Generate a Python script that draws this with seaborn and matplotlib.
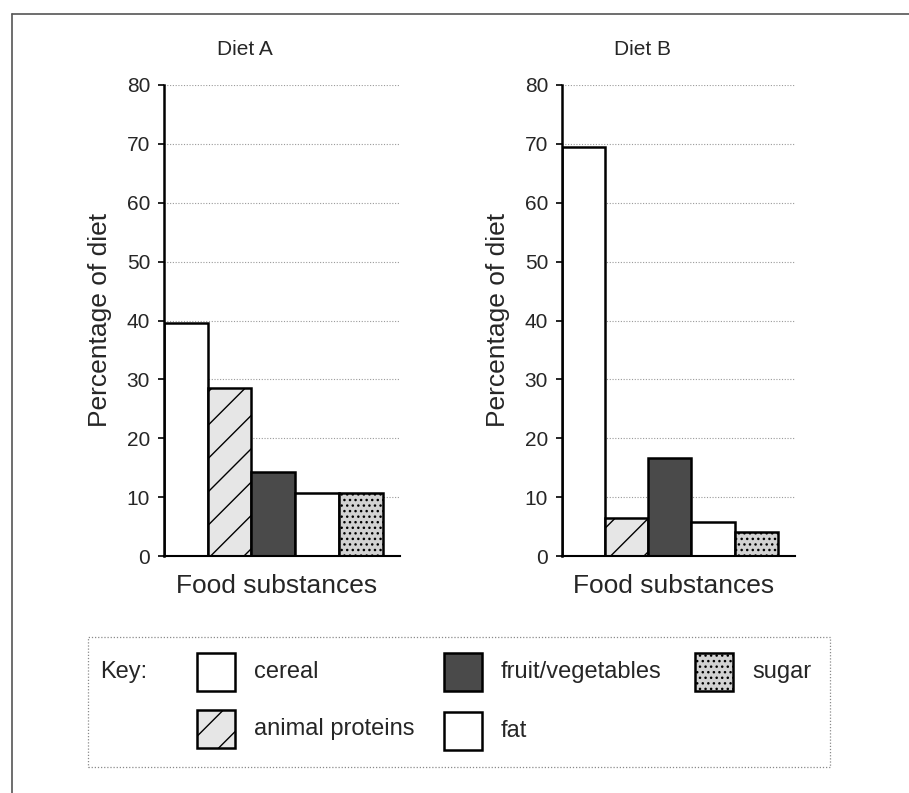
import matplotlib
matplotlib.use("Agg")
import matplotlib.pyplot as plt
from matplotlib.patches import Rectangle
import seaborn as sns

sns.set_theme(style="white")
plt.rcParams['font.family'] = ['Liberation Sans', 'DejaVu Sans']

foods = ["cereal", "animal proteins", "fruit/vegetables", "fat", "sugar"]
diet_a = [39.5, 28.5, 14.3, 10.7, 10.7]
diet_b = [69.4, 6.4, 16.6, 5.7, 4.0]
y_ticks = [0, 10, 20, 30, 40, 50, 60, 70, 80]

face = {"cereal": "white", "animal proteins": "#e6e6e6", "fruit/vegetables": "#4a4a4a",
        "fat": "white", "sugar": "#d2d2d2"}
hatch = {"cereal": None, "animal proteins": "/", "fruit/vegetables": None,
         "fat": None, "sugar": "..."}

W, H = 909, 793
fig = plt.figure(figsize=(W / 100, H / 100), dpi=100)


def fx(px):
    return px / W


def fy(py):
    return 1 - py / H


def panel(left, right, values, title, title_x):
    ax = fig.add_axes([fx(left), fy(556), fx(right - left), fy(85) - fy(556)])
    sns.barplot(x=foods, y=values, hue=foods, palette=face, width=1.0,
                edgecolor="black", linewidth=1.8, legend=False, ax=ax)
    for p, f in zip(ax.patches, foods):
        if hatch[f]:
            p.set_hatch(hatch[f])
    ax.set_ylim(0, 80)
    ax.set_xlim(-0.5, 4.9)
    ax.set_yticks(y_ticks)
    ax.yaxis.grid(True, linestyle=(0, (1, 1.5)), color="#9a9a9a", linewidth=0.8)
    ax.set_axisbelow(True)
    ax.set_xticks([])
    ax.tick_params(axis="y", length=4, width=1.2, labelsize=15, pad=6, left=True, color="black")
    for s in ["top", "right"]:
        ax.spines[s].set_visible(False)
    ax.spines["left"].set_color("black")
    ax.spines["left"].set_linewidth(1.8)
    ax.spines["bottom"].set_color("black")
    ax.spines["bottom"].set_linewidth(1.5)
    ax.set_ylabel("")
    ax.set_xlabel("")
    mid = (left + right) / 2
    fig.text(fx(mid - 5), fy(593), "Food substances", fontsize=19, ha="center", va="baseline")
    fig.text(fx(left - 64), fy(320), "Percentage of diet", fontsize=19, rotation=90,
             ha="center", va="center")
    fig.text(fx(title_x), fy(55), title, fontsize=15, ha="center", va="baseline")
    return ax


panel(164, 400, diet_a, "Diet A", 245)
panel(562, 795, diet_b, "Diet B", 642)

# outer frame (left and top edges)
fig.add_artist(plt.Line2D([fx(12), fx(12)], [fy(14), fy(793)], color="#555555", lw=1.2))
fig.add_artist(plt.Line2D([fx(12), fx(909)], [fy(14), fy(14)], color="#555555", lw=1.2))

# key box
fig.add_artist(Rectangle((fx(88), fy(767)), fx(830) - fx(88), fy(637) - fy(767),
                         fill=False, edgecolor="#8a8a8a", lw=0.9, linestyle=(0, (1, 1.5))))
fig.text(fx(100), fy(672), "Key:", fontsize=17, ha="left", va="center")

key_items = [("cereal", 197, 672), ("fruit/vegetables", 444, 672), ("sugar", 695, 672),
             ("animal proteins", 197, 729), ("fat", 444, 731)]
for name, x, y in key_items:
    fig.add_artist(Rectangle((fx(x), fy(y + 19)), fx(38), fy(0) - fy(38),
                             facecolor=face[name], edgecolor="black", lw=1.8,
                             hatch=hatch[name]))
    fig.text(fx(x + 57), fy(y), name, fontsize=17, ha="left", va="center")

fig.savefig("out.png", dpi=100)
